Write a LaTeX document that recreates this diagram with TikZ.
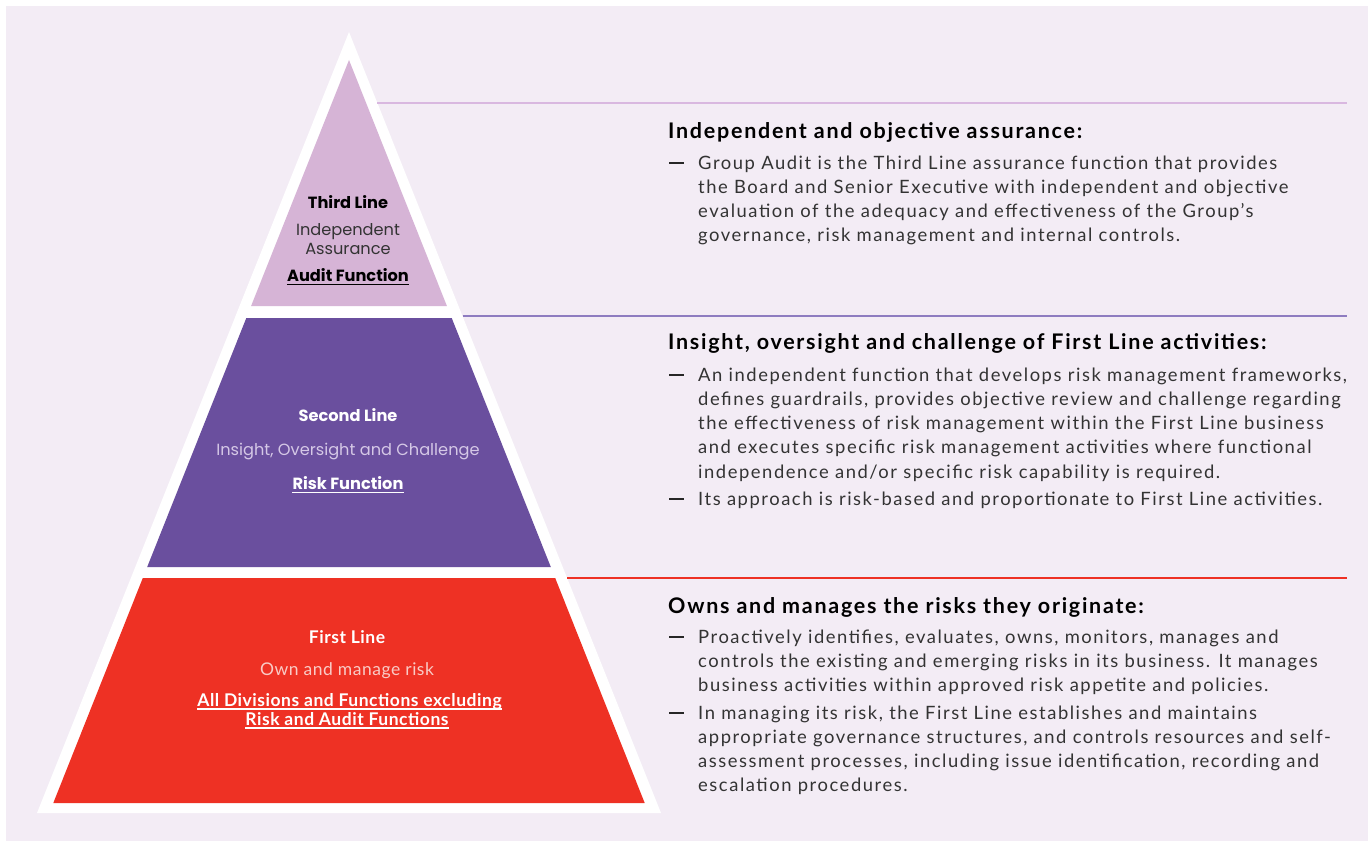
\documentclass[tikz,border=0pt]{standalone}
\usepackage{fontspec}
\setmainfont{Lato}
\newfontfamily\pop{Poppins}
\newfontfamily\bodyf[LetterSpace=8.4]{Lato}
\newfontfamily\headf[LetterSpace=8]{Lato}
\newfontfamily\firstf[LetterSpace=3]{Lato}
\definecolor{bgc}{HTML}{F3ECF5}
\definecolor{pinkc}{HTML}{D6B4D6}
\definecolor{purc}{HTML}{6A4F9E}
\definecolor{redc}{HTML}{EE3124}
\definecolor{pinkl}{HTML}{D9B8E0}
\definecolor{purl}{HTML}{8E7CC0}
\definecolor{bodyc}{HTML}{333333}
\definecolor{secmid}{HTML}{D5C8E6}
\definecolor{firstmid}{HTML}{F9CBC6}
\begin{document}
\begin{tikzpicture}[x=1pt,y=-1pt,
  head/.style={anchor=base west,inner sep=0pt,font=\headf\fontsize{21.5}{24.3}\selectfont\bfseries,text=black},
  body/.style={anchor=base west,inner sep=0pt,align=left,font=\bodyf\fontsize{18.4}{24.3}\selectfont,text=bodyc},
  dashmark/.style={anchor=base west,inner sep=0pt,text=black!85},
  ptitle/.style={anchor=base,inner sep=0pt,font=\pop\fontsize{16.2}{19}\selectfont\bfseries},
  psub/.style={anchor=base,inner sep=0pt,align=center,font=\pop\fontsize{16.2}{19}\selectfont},
  ftitle/.style={anchor=base,inner sep=0pt,font=\firstf\fontsize{17.5}{19.5}\selectfont\bfseries,text=white},
  fsub/.style={anchor=base,inner sep=0pt,font=\firstf\fontsize{17.5}{19.5}\selectfont,text=firstmid},
  sepline/.style={line width=1.4pt}
]
\newcommand\dashrule{\rule[5pt]{15pt}{1.6pt}}
\useasboundingbox (0,0) rectangle (1368,843);
\fill[white] (0,0) rectangle (1368,843);
\fill[bgc] (6,6) rectangle (1368,841);
% outer white triangle
\fill[white] (349,32) -- (661,813) -- (37,813) -- cycle;
% bands
\fill[pinkc] (349,60) -- (446.9,306) -- (251.1,306) -- cycle;
\fill[purc] (246.3,318) -- (451.7,318) -- (550.8,567) -- (147.2,567) -- cycle;
\fill[redc] (142.8,578) -- (555.2,578) -- (644.7,803) -- (53.3,803) -- cycle;
% separator lines
\coordinate (l1a) at (377.4,103); \coordinate (l1b) at (1347,103);
\coordinate (l2a) at (462.6,316); \coordinate (l2b) at (1347,316);
\coordinate (l3a) at (567.4,578); \coordinate (l3b) at (1347,578);
\draw[sepline,pinkl] (l1a) -- (l1b);
\draw[sepline,purl] (l2a) -- (l2b);
\draw[sepline,redc] (l3a) -- (l3b);
% pyramid texts: third line
\node[ptitle,text=black] (t3) at (348,208) {Third Line};
\node[psub,text=bodyc] (t3a) at (348,235) {Independent};
\node[psub,text=bodyc] (t3b) at (348,254) {Assurance};
\node[ptitle,text=black] (t3c) at (348,281) {Audit Function};
\draw[black,line width=1.2pt] ([yshift=-3.5pt]t3c.base west) -- ([yshift=-3.5pt]t3c.base east);
% second line
\node[ptitle,text=white] (t2) at (348,421) {Second Line};
\node[psub,text=secmid] (t2a) at (348,455) {Insight, Oversight and Challenge};
\node[ptitle,text=white] (t2b) at (348,489) {Risk Function};
\draw[white,line width=1.2pt] ([yshift=-3.5pt]t2b.base west) -- ([yshift=-3.5pt]t2b.base east);
% first line
\node[ftitle] (t1) at (347,643) {First Line};
\node[fsub] (t1a) at (347,675) {Own and manage risk};
\node[ftitle] (t1b) at (349.5,706) {All Divisions and Functions excluding\ };
\node[ftitle] (t1c) at (347,725) {Risk and Audit Functions};
\draw[white,line width=1.2pt] ([yshift=-3pt]t1b.base west) -- ([yshift=-3pt]t1b.base east);
\draw[white,line width=1.2pt] ([yshift=-3pt]t1c.base west) -- ([yshift=-3pt]t1c.base east);
% right texts (body nodes anchored at the baseline of their last line)
\node[head] (h1) at (668,138) {Independent and objective assurance:};
\node[dashmark] (d1) at (669,169) {\dashrule};
\node[body] (b1) at (698,241.9) {Group Audit is the Third Line assurance function that provides\\the Board and Senior Executive with independent and objective\\evaluation of the adequacy and effectiveness of the Group’s\\governance, risk management and internal controls.};
\node[head] (h2) at (668,349) {Insight, oversight and challenge of First Line activities:};
\node[dashmark] (d2) at (669,381) {\dashrule};
\node[body] (b2) at (698,478.2) {An independent function that develops risk management frameworks,\\defines guardrails, provides objective review and challenge regarding\\the effectiveness of risk management within the First Line business\\and executes specific risk management activities where functional\\independence and/or specific risk capability is required.};
\node[dashmark] (d3) at (669,505) {\dashrule};
\node[body] (b3) at (698,505) {Its approach is risk-based and proportionate to First Line activities.};
\node[head] (h3) at (668,613) {Owns and manages the risks they originate:};
\node[dashmark] (d4) at (669,643) {\dashrule};
\node[body] (b4) at (698,691.6) {Proactively identifies, evaluates, owns, monitors, manages and\\controls the existing and emerging risks in its business. It manages\\business activities within approved risk appetite and policies.};
\node[dashmark] (d5) at (669,719) {\dashrule};
\node[body] (b5) at (698,791.9) {In managing its risk, the First Line establishes and maintains\\appropriate governance structures, and controls resources and self-\\assessment processes, including issue identification, recording and\\escalation procedures.};
\end{tikzpicture}
\end{document}
